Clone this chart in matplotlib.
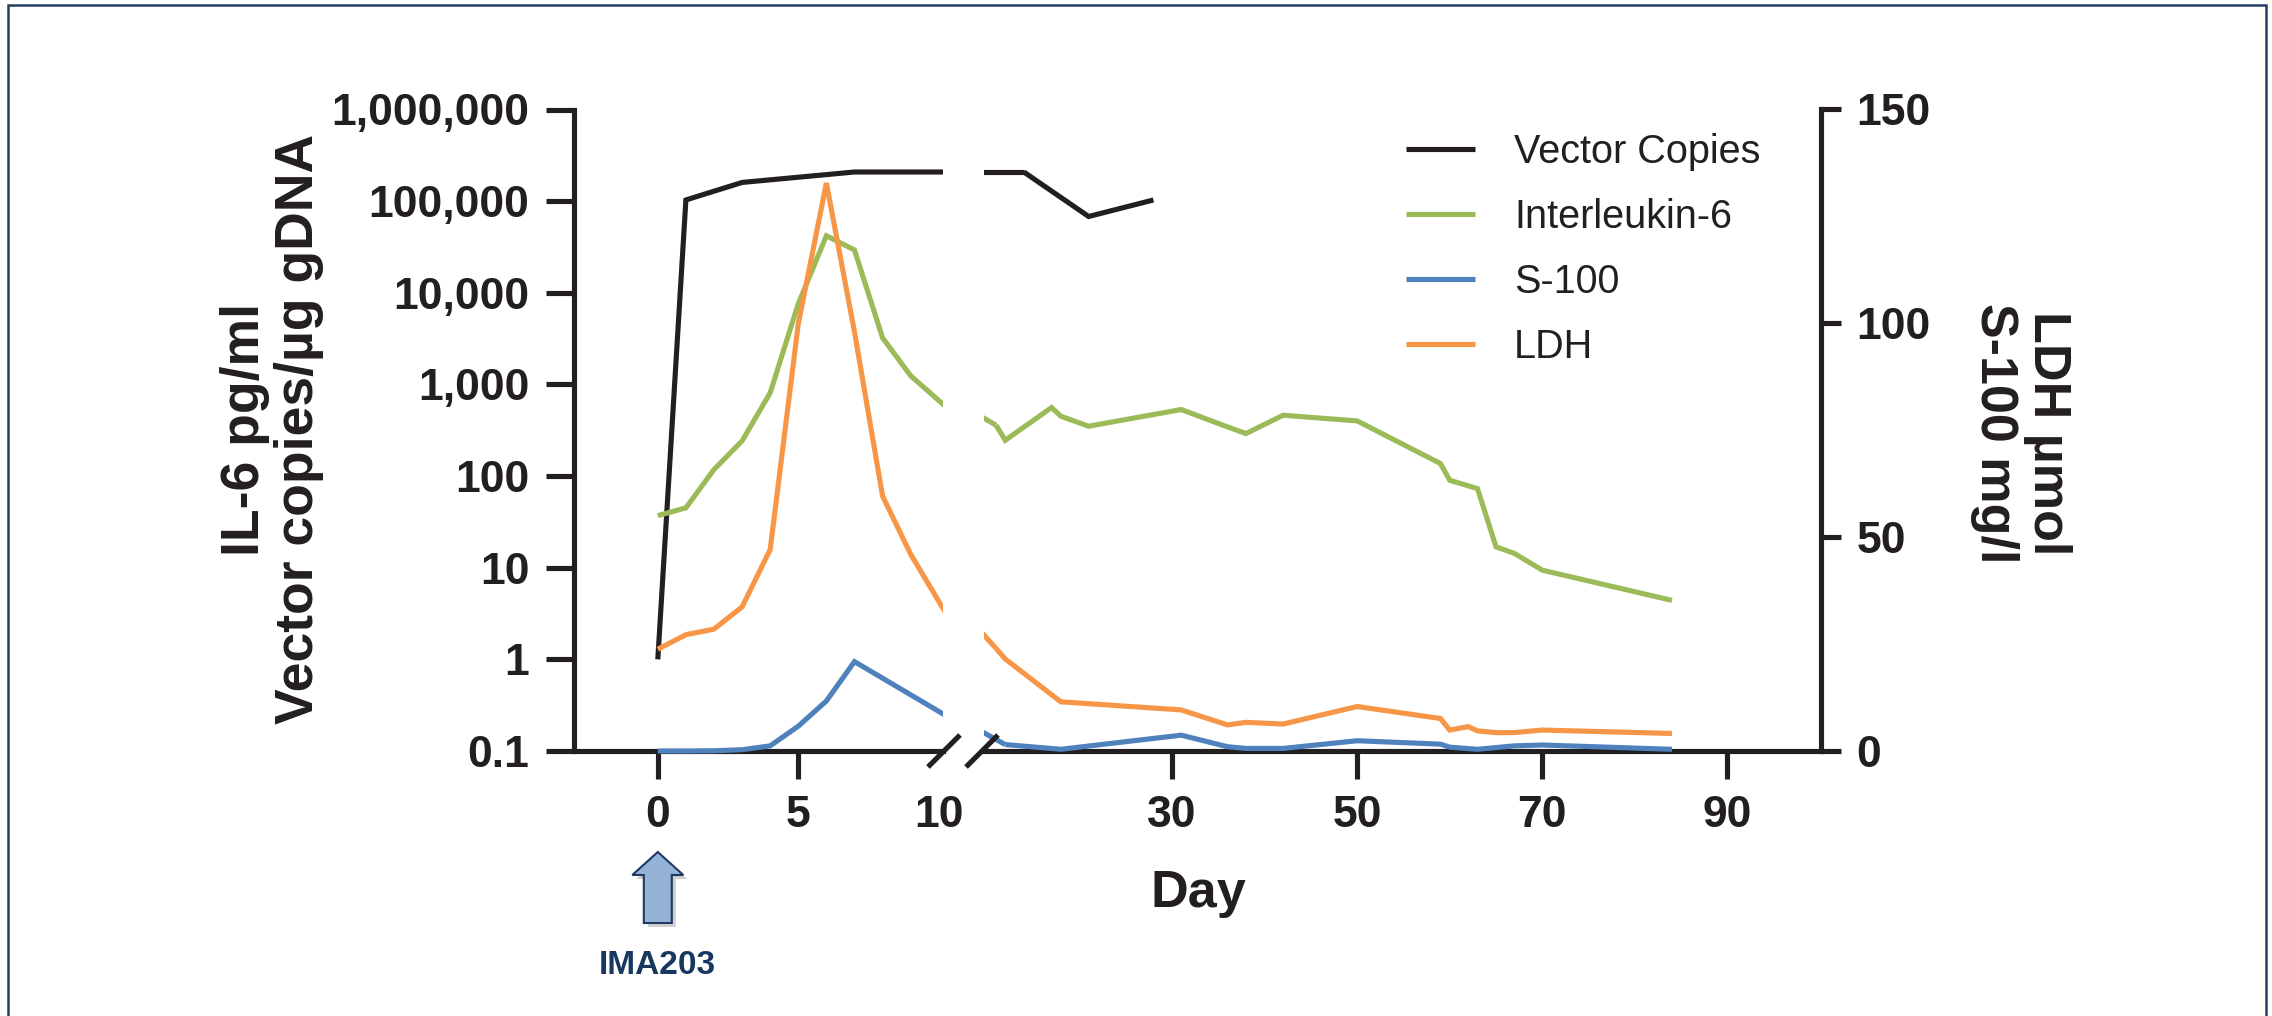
import numpy as np
import matplotlib
matplotlib.use("Agg")
import matplotlib.pyplot as plt
from matplotlib.lines import Line2D
from matplotlib.patches import Polygon, Rectangle
from matplotlib.ticker import FixedLocator, NullLocator, FixedFormatter
from matplotlib.transforms import Bbox, TransformedBbox

plt.rcParams['font.family'] = ['Liberation Sans', 'DejaVu Sans']

# ---------------- data ----------------
vector_days = [0, 1, 3, 7, 14, 21, 28]
vector_copies = [1, 1.03e5, 1.6e5, 2.08e5, 2.08e5, 6.8e4, 1.03e5]

il6_days = [0, 1, 2, 3, 4, 5, 6, 7, 8, 9, 11, 12, 17, 18, 21, 31, 36, 38, 42, 50,
            59, 60, 63, 65, 67, 70, 84]
il6_values = [37, 45, 118, 242, 811, 7600, 41900, 29300, 3220, 1242, 359, 246, 560,
              450, 350, 532, 344, 291, 461, 400, 137, 90, 73, 16.9, 14.3, 9.4, 4.4]

s100_days = [0, 1, 2, 3, 4, 5, 6, 7, 12, 18, 31, 36, 38, 42, 50, 59, 60, 63, 67, 70, 84]
s100_values = [0, 0, 0.05, 0.3, 1.2, 5.8, 11.7, 20.9, 1.5, 0.4, 3.7, 1.0, 0.6, 0.6,
               2.4, 1.6, 0.9, 0.4, 1.2, 1.4, 0.4]

ldh_days = [0, 1, 2, 3, 4, 5, 6, 7, 8, 9, 11, 12, 18, 31, 36, 38, 42, 50, 59, 60, 62,
            63, 65, 67, 70, 84]
ldh_values = [23.8, 27.2, 28.5, 33.7, 47.1, 99.9, 132.8, 98, 59.6, 46.0, 24, 21.5, 11.5,
              9.6, 6.1, 6.7, 6.3, 10.4, 7.6, 4.9, 5.7, 4.7, 4.3, 4.3, 4.9, 4.1]

x_ticks_left = [0, 5, 10]
x_ticks_right = [30, 50, 70, 90]
y_ticks_log = [0.1, 1, 10, 100, 1e3, 1e4, 1e5, 1e6]
y_labels_log = ['0.1', '1', '10', '100', '1,000', '10,000', '100,000', '1,000,000']
y_ticks_lin = [0, 50, 100, 150]
y_labels_lin = ['0', '50', '100', '150']

series_names = ['Vector Copies', 'Interleukin-6', 'S-100', 'LDH']

# ---------------- style ----------------
INK = '#231F20'
C_BLACK = '#231F20'
C_GREEN = '#9BBB59'
C_BLUE = '#4F81BD'
C_ORANGE = '#F79646'
LW = 3.7
SPW = 3.7

W, H, DPI = 2272, 1016, 100
fig = plt.figure(figsize=(W / DPI, H / DPI), dpi=DPI)
fig.patch.set_facecolor('white')

def fx(px):
    return px / W

def fy(py):
    return 1 - py / H

top_px, bot_px = 109.5, 751.0
hgt = (bot_px - top_px) / H
axL = fig.add_axes([fx(573.5), fy(bot_px), fx(943) - fx(573.5), hgt])
axR = fig.add_axes([fx(984), fy(bot_px), fx(1821) - fx(984), hgt])
axL2 = axL.twinx()
axR2 = axR.twinx()

BRK = 10
XL = (-3.0, 10.15)
XR = (9.7, 100.1)

for a in (axL, axR):
    a.set_yscale('log')
    a.set_ylim(0.1, 1e6)
    a.yaxis.set_minor_locator(NullLocator())
for a in (axL2, axR2):
    a.set_ylim(0, 150)

def expand_clip(line, ax):
    line.set_clip_box(TransformedBbox(Bbox([[0, -0.03], [1, 1.03]]), ax.transAxes))

def draw_series(days, vals, axl, axr, color, label):
    d = np.asarray(days, float)
    v = np.asarray(vals, float)
    i = int(np.searchsorted(d, BRK, side='right'))
    l1, = axl.plot(d, v, color=color, lw=LW, zorder=3, solid_joinstyle='miter',
                   solid_capstyle='butt', label=label)
    expand_clip(l1, axl)
    l2, = axr.plot(d[i:], v[i:], color=color, lw=LW, zorder=3, solid_joinstyle='miter',
                   solid_capstyle='butt')
    expand_clip(l2, axr)
    return l1, (d[i - 1], v[i - 1]), (d[i], v[i])

h_vec, *vc = draw_series(vector_days, vector_copies, axL, axR, C_BLACK, series_names[0])
h_il6, *ic = draw_series(il6_days, il6_values, axL, axR, C_GREEN, series_names[1])
h_s100, *sc = draw_series(s100_days, s100_values, axL2, axR2, C_BLUE, series_names[2])
h_ldh, *lc = draw_series(ldh_days, ldh_values, axL2, axR2, C_ORANGE, series_names[3])

for a in (axL, axL2):
    a.set_xlim(*XL)
for a in (axR, axR2):
    a.set_xlim(*XR)

# connectors across the break, drawn in screen space inside the right segment
inv = fig.transFigure.inverted()
for (p_prev, p_next), axf, axt, col in [(vc, axL, axR, C_BLACK), (ic, axL, axR, C_GREEN),
                                        (sc, axL2, axR2, C_BLUE), (lc, axL2, axR2, C_ORANGE)]:
    q0 = inv.transform(axf.transData.transform(p_prev))
    q1 = inv.transform(axt.transData.transform(p_next))
    ln = Line2D([q0[0], q1[0]], [q0[1], q1[1]], transform=fig.transFigure, color=col,
                lw=LW, zorder=3, solid_capstyle='butt')
    axt.add_line(ln)
    expand_clip(ln, axt)

# spines
for a in (axL, axR, axL2, axR2):
    for s in a.spines.values():
        s.set_visible(False)
        s.set_linewidth(SPW)
        s.set_color(INK)
axL.spines['left'].set_visible(True)
axL.spines['bottom'].set_visible(True)
axR.spines['bottom'].set_visible(True)
axR2.spines['right'].set_visible(True)
for a in (axL, axR, axL2, axR2):
    a.patch.set_visible(False)

TICKFS = 32
tick_kw = dict(direction='out', width=SPW, color=INK, labelcolor=INK, labelsize=TICKFS)

# left y axis
axL.yaxis.set_major_locator(FixedLocator(y_ticks_log))
axL.yaxis.set_major_formatter(FixedFormatter(y_labels_log))
axL.tick_params(axis='y', which='major', length=20.2, pad=11.5, left=True, right=False, **tick_kw)
axR.tick_params(axis='y', which='both', left=False, right=False, labelleft=False, labelright=False)
axL2.tick_params(axis='y', which='both', left=False, right=False, labelleft=False, labelright=False)

# right y axis
axR2.yaxis.set_major_locator(FixedLocator(y_ticks_lin))
axR2.yaxis.set_major_formatter(FixedFormatter(y_labels_lin))
axR2.tick_params(axis='y', which='major', length=14.4, pad=11, right=True, left=False, **tick_kw)

# x axes
axL.xaxis.set_major_locator(FixedLocator(x_ticks_left))
axL.xaxis.set_major_formatter(FixedFormatter([str(t) for t in x_ticks_left]))
axR.xaxis.set_major_locator(FixedLocator(x_ticks_right))
axR.xaxis.set_major_formatter(FixedFormatter([str(t) for t in x_ticks_right]))
for a in (axL, axR):
    a.xaxis.set_minor_locator(NullLocator())
    a.tick_params(axis='x', which='major', length=20.2, pad=11.5, top=False, **tick_kw)
for lab in axL.get_yticklabels() + axR2.get_yticklabels() + axL.get_xticklabels() + axR.get_xticklabels():
    lab.set_fontweight('bold')
# no tick mark under the "10" label (hidden by the axis break)
for t in axL.xaxis.get_major_ticks():
    if t.get_loc() == BRK:
        t.tick1line.set_visible(False)

# break marks
pL = axL.get_position()
pR = axR.get_position()
dx, dy = 16 / W, 16 / H
for xc in (pL.x1 + 1 / W, pR.x0 - 2 / W):
    fig.add_artist(Line2D([xc - dx, xc + dx], [pL.y0 - dy, pL.y0 + dy], transform=fig.transFigure,
                          color=INK, lw=SPW, solid_capstyle='butt'))

# axis titles
fig.text(fx(272), fy(429), 'IL-6 pg/ml\nVector copies/µg gDNA', rotation=90, ha='center',
         va='center', multialignment='center', fontsize=38.5, fontweight='bold', color=INK,
         linespacing=1.1)
fig.text(fx(2021), fy(433), 'LDH µmol\nS-100 mg/l', rotation=270, ha='center', va='center',
         multialignment='center', fontsize=37.5, fontweight='bold', color=INK, linespacing=1.1)
fig.text(fx(1198), fy(907), 'Day', ha='center', va='baseline', fontsize=37.5,
         fontweight='bold', color=INK)

# legend
fig.legend([h_vec, h_il6, h_s100, h_ldh], series_names, loc='upper left',
           bbox_to_anchor=(fx(1406), fy(133)), frameon=False, borderpad=0, borderaxespad=0,
           handlelength=1.75, handletextpad=0.98, labelspacing=0.68, fontsize=28.5,
           labelcolor=INK)

# IMA203 arrow at day 0
x0_disp = axL.transData.transform((0, 1))[0]
ax_px = x0_disp * W / fig.bbox.width
def arrow_pts(cx, off=0.0):
    pts = [(cx, 852), (cx + 25.5, 875), (cx + 14, 875), (cx + 14, 923), (cx - 14, 923),
           (cx - 14, 875), (cx - 25.5, 875)]
    return [(fx(px + off), fy(py + off)) for px, py in pts]
fig.add_artist(Polygon(arrow_pts(ax_px, 4), closed=True, transform=fig.transFigure,
                       facecolor='#000000', alpha=0.18, edgecolor='none'))
fig.add_artist(Polygon(arrow_pts(ax_px), closed=True, transform=fig.transFigure,
                       facecolor='#95B3D7', edgecolor='#1F3864', lw=1.5))
fig.text(fx(ax_px), fy(966), 'IMA203', ha='center', va='center', fontsize=24,
         fontweight='bold', color='#17375E')

# frame
fig.add_artist(Rectangle((fx(8), fy(1030)), fx(2266) - fx(8), (1030 - 5) / H,
                         transform=fig.transFigure, fill=False, edgecolor='#243F60', lw=1.8))

fig.savefig('out.png', dpi=DPI, facecolor='white')
